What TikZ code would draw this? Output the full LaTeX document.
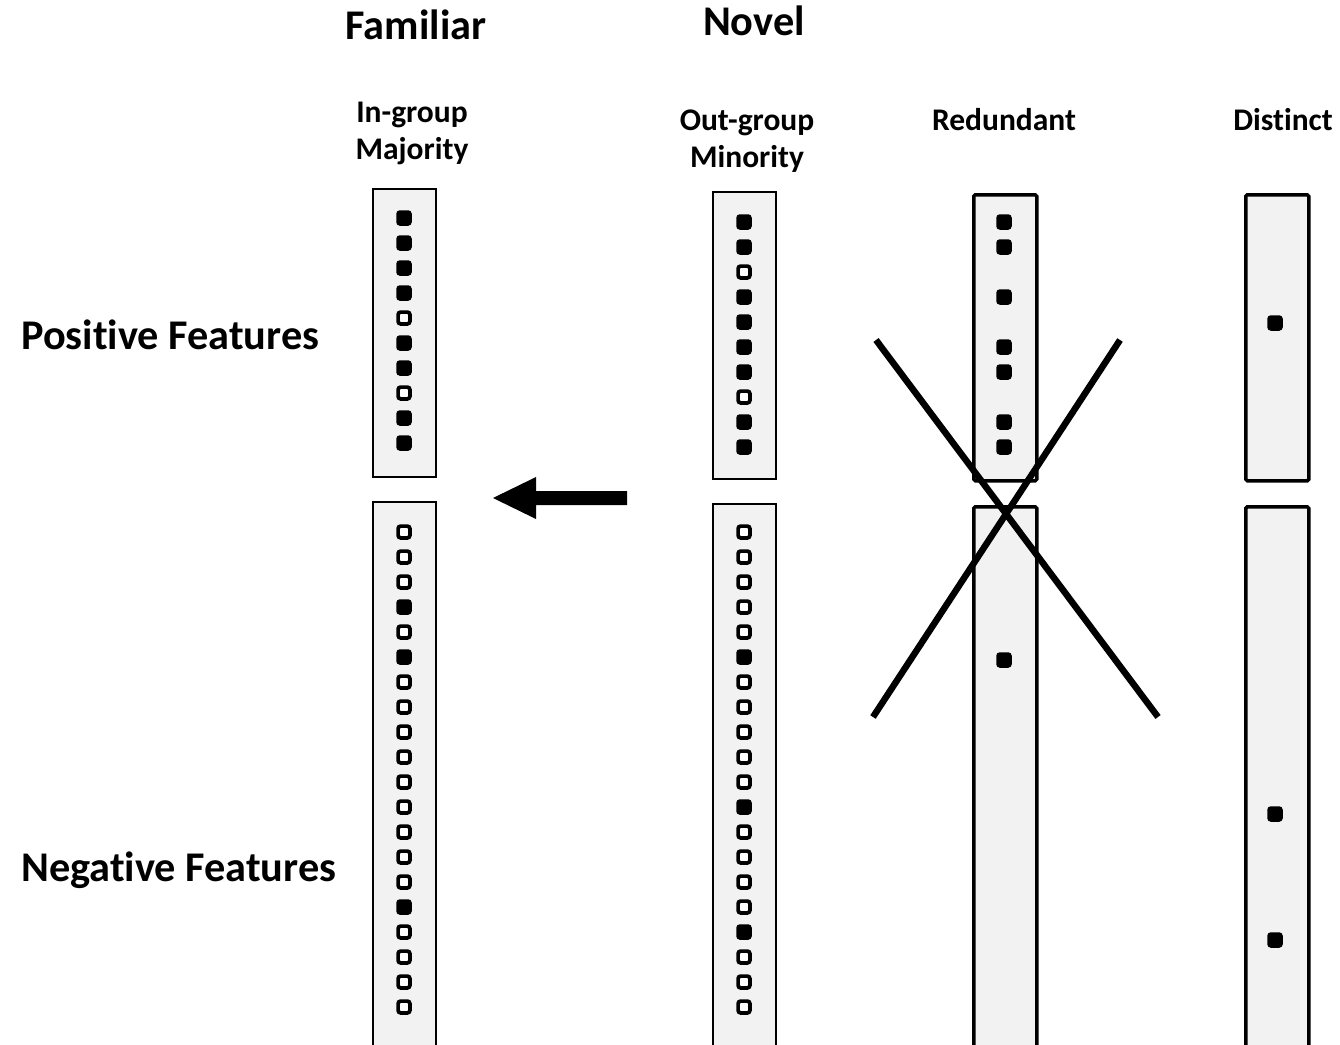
\documentclass[tikz,border=0pt]{standalone}
\usepackage{fontspec}
\setmainfont{Carlito}[Ligatures={NoCommon}]
\usetikzlibrary{calc}
\definecolor{boxgray}{HTML}{F2F2F2}
\begin{document}
\begin{tikzpicture}[x=1pt,y=-1pt,
  bigtxt/.style={font=\fontsize{42.3}{50}\selectfont\bfseries, inner sep=0pt, anchor=base},
  smalltxt/.style={font=\fontsize{31.5}{38}\selectfont\bfseries, inner sep=0pt, anchor=base},
  thinbox/.style={draw=black, fill=boxgray, line width=2.4pt, minimum width=63pt, inner sep=0pt, anchor=north west},
  thickbox/.style={draw=black, fill=boxgray, line width=3.5pt, minimum width=63pt, inner sep=0pt, anchor=north west, rounded corners=1.5pt},
  fsq/.style={fill=black, rounded corners=3.5pt, minimum size=15.5pt, inner sep=0pt},
  esq/.style={draw=black, fill=white, line width=3.7pt, rounded corners=2.5pt, minimum size=11.8pt, inner sep=0pt},
  xline/.style={line width=6.5pt, black}]
\useasboundingbox (0,0) rectangle (1340,1044);
\clip (0,0) rectangle (1340,1044);

% headings
\node[bigtxt] (familiar) at (416,39) {Familiar};
\node[bigtxt] (novel) at (754,35) {Novel};
\node[smalltxt] (ingroup) at (412,122) {In-group};
\node[smalltxt] (majority) at (412,159) {Majority};
\node[smalltxt] (outgroup) at (747,130) {Out-group};
\node[smalltxt] (minority) at (747,167) {Minority};
\node[smalltxt] (redundant) at (1004,130) {Redundant};
\node[smalltxt] (distinct) at (1283,130) {Distinct};
\node[bigtxt, anchor=base west] (posf) at (21,349) {Positive Features};
\node[bigtxt, anchor=base west] (negf) at (21,881) {Negative Features};

% boxes
\node[thinbox, minimum height=288pt] (igpos) at (372,188) {};
\node[thinbox, minimum height=560pt] (igneg) at (372,501) {};
\node[thinbox, minimum height=287pt] (ogpos) at (712,191) {};
\node[thinbox, minimum height=560pt] (ogneg) at (712,503) {};
\node[thickbox, minimum height=286pt] (rdpos) at (972,193) {};
\node[thickbox, minimum height=560pt] (rdneg) at (972,505) {};
\node[thickbox, minimum height=286pt] (dspos) at (1244,193) {};
\node[thickbox, minimum height=560pt] (dsneg) at (1244,505) {};

% squares: in-group majority
\foreach \s [count=\i from 0] in {fsq,fsq,fsq,fsq,esq,fsq,fsq,esq,fsq,fsq}
  \node[\s] (igp\i) at (404,218+25*\i) {};
\foreach \s [count=\i from 0] in {esq,esq,esq,fsq,esq,fsq,esq,esq,esq,esq,esq,esq,esq,esq,esq,fsq,esq,esq,esq,esq}
  \node[\s] (ign\i) at (404,532+25*\i) {};
% out-group minority
\foreach \s [count=\i from 0] in {fsq,fsq,esq,fsq,fsq,fsq,fsq,esq,fsq,fsq}
  \node[\s] (ogp\i) at (744,222+25*\i) {};
\foreach \s [count=\i from 0] in {esq,esq,esq,esq,esq,fsq,esq,esq,esq,esq,esq,fsq,esq,esq,esq,esq,fsq,esq,esq,esq}
  \node[\s] (ogn\i) at (744,532+25*\i) {};
% redundant
\foreach \k in {0,1,3,5,6,8,9}
  \node[fsq] (rdp\k) at (1004,222+25*\k) {};
\node[fsq] (rdn5) at (1004,660) {};
% distinct
\node[fsq] (dsp4) at (1275,323) {};
\node[fsq] (dsn1) at (1275,814) {};
\node[fsq] (dsn2) at (1275,940) {};

% cross over redundant
\coordinate (xa1) at (876,340);
\coordinate (xa2) at (1158,717);
\coordinate (xb1) at (1120,340);
\coordinate (xb2) at (873,717);
\draw[xline] (xa1) -- (xa2);
\draw[xline] (xb1) -- (xb2);

% arrow
\coordinate (arrtail) at (627,498);
\coordinate (arrtip) at (493,498);
\fill[black] (arrtip) -- ($(arrtip)+(43,-21)$) -- ($(arrtip)+(43,-7)$) -- ($(arrtail)+(0,-7)$) -- ($(arrtail)+(0,7)$) -- ($(arrtip)+(43,7)$) -- ($(arrtip)+(43,21)$) -- cycle;
\end{tikzpicture}
\end{document}
